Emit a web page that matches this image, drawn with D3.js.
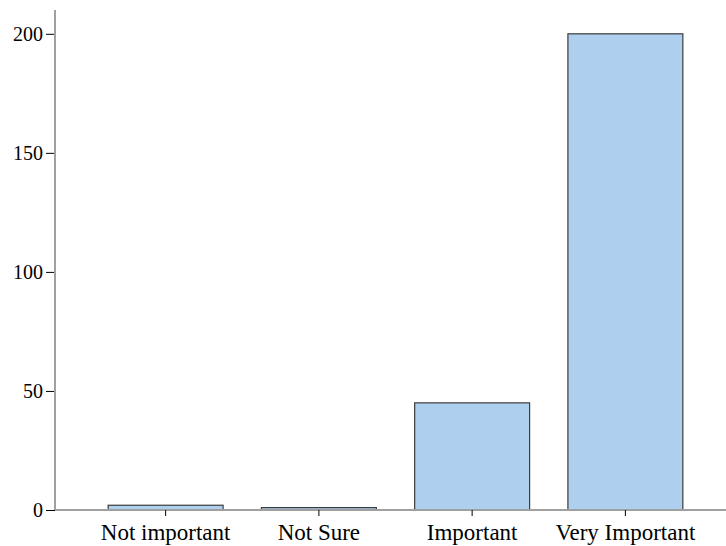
<!DOCTYPE html>
<html><head><meta charset="utf-8">
<script src="https://cdn.jsdelivr.net/npm/d3@7"></script>
<style>body{margin:0;background:#fff}svg{display:block}</style>
</head><body>
<script>
const categories = ["Not important", "Not Sure", "Important", "Very Important"];
const counts = [2, 1, 45, 200];
const yTicks = [0, 50, 100, 150, 200];

const W = 726, H = 546;
const svg = d3.select("body").append("svg").attr("width", W).attr("height", H);
const font = "'Liberation Serif', 'Times New Roman', serif";

const x = d3.scaleBand().domain(categories).range([89, 702]).paddingInner(0.25).paddingOuter(0.125);
const y = d3.scaleLinear().domain([0, 210]).range([510, 10]);

// bars
svg.selectAll("rect.bar").data(categories).enter().append("rect")
  .attr("class", "bar")
  .attr("x", d => x(d))
  .attr("width", x.bandwidth())
  .attr("y", (d, i) => y(counts[i]))
  .attr("height", (d, i) => y(0) - y(counts[i]))
  .attr("fill", "#aecfee")
  .attr("stroke", "#3c3c3c")
  .attr("stroke-width", 1.2);

// y axis
const ya = svg.append("g").attr("transform", "translate(55,0)")
  .call(d3.axisLeft(y).tickValues(yTicks).tickSize(9).tickPadding(3).tickFormat(d3.format("d")));
ya.select(".domain").remove();
ya.append("line").attr("x1", 0).attr("x2", 0).attr("y1", 10).attr("y2", 510)
  .attr("stroke", "#a0a0a0").attr("stroke-width", 2);
ya.selectAll(".tick line").attr("stroke", "#000").attr("stroke-width", 1);
ya.selectAll(".tick text").attr("font-family", font).attr("font-size", 20).attr("fill", "#000");

// x axis
const xa = svg.append("g").attr("transform", "translate(0,510)")
  .call(d3.axisBottom(x).tickSize(6).tickPadding(8));
xa.select(".domain").remove();
xa.insert("line", ":first-child").attr("x1", 55).attr("x2", W).attr("y1", 0).attr("y2", 0)
  .attr("stroke", "#a0a0a0").attr("stroke-width", 2);
xa.selectAll(".tick line").attr("stroke", "#000").attr("stroke-width", 1);
xa.selectAll(".tick text").attr("font-family", font).attr("font-size", 23).attr("fill", "#000");
</script>
</body></html>
